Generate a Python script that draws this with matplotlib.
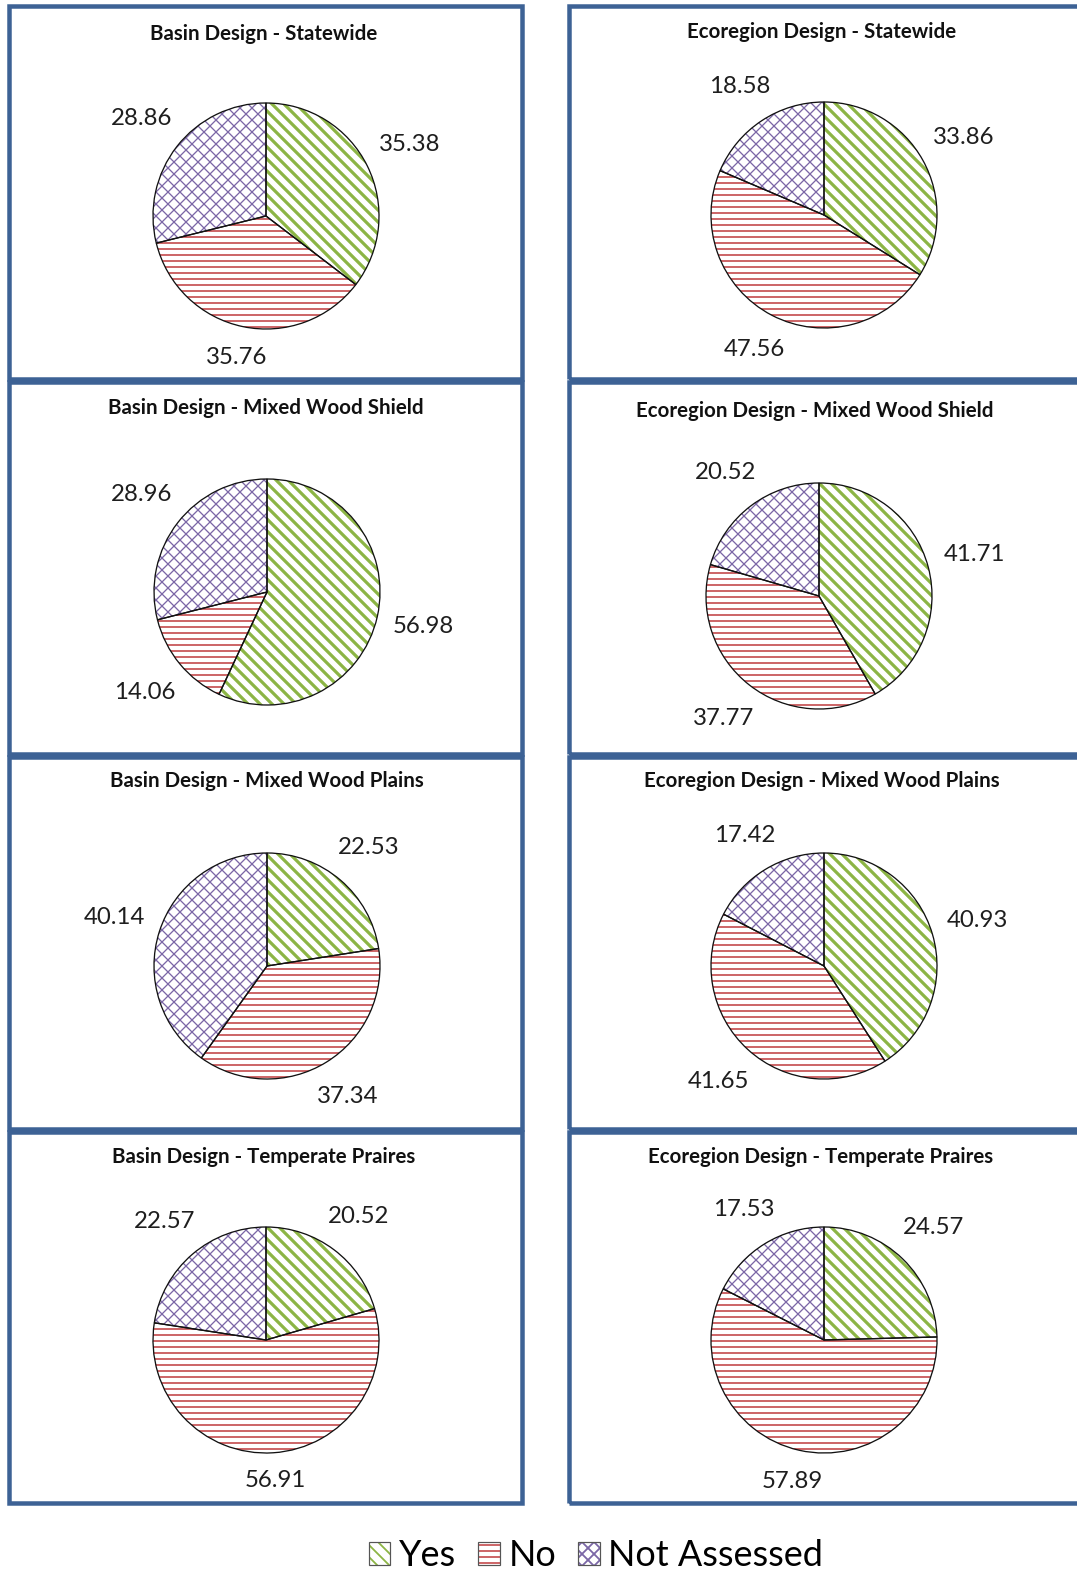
import numpy as np
import matplotlib
matplotlib.use('Agg')
import matplotlib.pyplot as plt
from matplotlib.patches import Rectangle, Patch
from matplotlib.legend_handler import HandlerTuple

# ---------------- data ----------------
titles = ["Basin Design - Statewide", "Ecoregion Design - Statewide",
          "Basin Design - Mixed Wood Shield", "Ecoregion Design - Mixed Wood Shield",
          "Basin Design - Mixed Wood Plains", "Ecoregion Design - Mixed Wood Plains",
          "Basin Design - Temperate Praires", "Ecoregion Design - Temperate Praires"]
yes = [35.38, 33.86, 56.98, 41.71, 22.53, 40.93, 20.52, 24.57]
no = [35.76, 47.56, 14.06, 37.77, 37.34, 41.65, 56.91, 57.89]
not_assessed = [28.86, 18.58, 28.96, 20.52, 40.14, 17.42, 22.57, 17.53]
categories = ["Yes", "No", "Not Assessed"]

# ---------------- style / layout ----------------
W, H = 1077, 1574
DPI = 72
plt.rcParams['font.family'] = ['Lato', 'DejaVu Sans']
plt.rcParams['hatch.linewidth'] = 1.8

hatches = ['\\\\', '--', 'xx']
hcolors = ['#8CB545', '#C8585A', '#7B67A6']
hlw = [3.2, 1.8, 1.3]
border_col = '#3D6295'

R = 113.0        # pie radius in px
LABEL_GAP = 15.0  # px between pie edge and nearest point of label box
centers = [(266, 216), (824, 215), (267, 592), (819, 596),
           (267, 966), (824, 966), (266, 1340), (824, 1340)]
title_pos = [(264, 34), (822, 32), (266, 408), (815, 411),
             (267, 781), (822, 781), (264, 1157), (821, 1157)]
col_x = [(9, 522), (569, 1090)]
row_y = [(6, 379), (382, 754), (757, 1129), (1132, 1503)]

fig = plt.figure(figsize=(W / DPI, H / DPI), dpi=DPI)
fig.patch.set_facecolor('white')
renderer = fig.canvas.get_renderer()

# panel borders
for (y0, y1) in row_y:
    for (x0, x1) in col_x:
        fig.add_artist(Rectangle((x0 / W, 1 - y1 / H), (x1 - x0) / W, (y1 - y0) / H,
                                 transform=fig.transFigure, fill=False,
                                 edgecolor=border_col, linewidth=4.5, zorder=0))

AXW, AXH = 440, 320
for i in range(8):
    cx, cy = centers[i]
    ax = fig.add_axes([(cx - AXW / 2) / W, 1 - (cy + AXH / 2) / H, AXW / W, AXH / H])
    vals = [yes[i], no[i], not_assessed[i]]
    wedges, texts = ax.pie(vals, startangle=90, counterclock=False,
                           colors=['white'] * 3,
                           labels=[f"{v:.2f}" for v in vals], labeldistance=1.3,
                           wedgeprops=dict(linewidth=0),
                           textprops=dict(fontsize=24, color='#1E1E1E'))
    for w, h, c, lw in zip(wedges, hatches, hcolors, hlw):
        w.set_hatch(h)
        w.set_edgecolor(c)
        if hasattr(w, 'set_hatch_linewidth'):
            w.set_hatch_linewidth(lw)
    ax.pie(vals, startangle=90, counterclock=False,
           wedgeprops=dict(fill=False, edgecolor='#111111', linewidth=1.3))
    ax.set_xlim(-AXW / 2 / R, AXW / 2 / R)
    ax.set_ylim(-AXH / 2 / R, AXH / 2 / R)
    ax.set_aspect('equal')
    ax.axis('off')
    # place labels outside the pie, nearest box edge at a fixed gap
    for w, t in zip(wedges, texts):
        t.set_ha('center')
        t.set_va('center')
        bb = t.get_window_extent(renderer)
        hw, hh = bb.width / 2, bb.height / 2
        ang = np.deg2rad((w.theta1 + w.theta2) / 2)
        c, s = np.cos(ang), np.sin(ang)
        d = (R + LABEL_GAP + hw * abs(c) + hh * abs(s)) / R
        t.set_position((d * c, d * s))
    tx, ty = title_pos[i]
    fig.text(tx / W, 1 - ty / H, titles[i], ha='center', va='center',
             fontsize=20.5, fontweight='bold', color='#111111')

handles = []
for h, c, lw in zip(hatches, hcolors, hlw):
    p = Patch(facecolor='white', edgecolor=c, hatch=h, linewidth=0)
    if hasattr(p, 'set_hatch_linewidth'):
        p.set_hatch_linewidth(lw * 0.8)
    handles.append((p, Patch(fill=False, edgecolor='#555555', linewidth=1.2)))

fig.legend(handles=handles, labels=categories,
           handler_map={tuple: HandlerTuple(ndivide=1, pad=0)},
           loc='center', bbox_to_anchor=(596 / W, 1 - 1556 / H), ncol=3, frameon=False,
           fontsize=36, handlelength=0.6, handleheight=0.6, handletextpad=0.25,
           columnspacing=0.6, borderaxespad=0)

fig.savefig('out.png', dpi=DPI, facecolor='white')
